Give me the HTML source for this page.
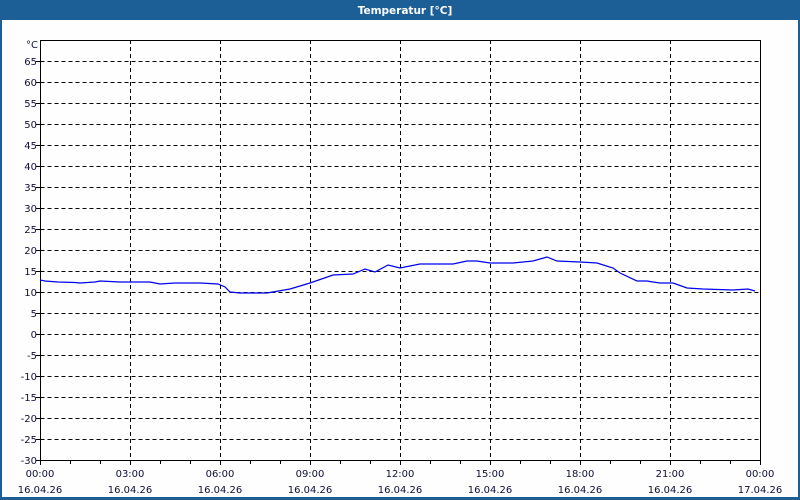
<!DOCTYPE html>
<html><head><meta charset="utf-8"><style>
html,body{margin:0;padding:0;background:#fff}
svg{display:block}
text{font-family:"DejaVu Sans","Liberation Sans",sans-serif;font-size:10px;fill:#10103a}
</style></head><body>
<svg width="800" height="500" viewBox="0 0 800 500" xmlns="http://www.w3.org/2000/svg">
<rect x="0" y="0" width="800" height="500" fill="#1c5e96"/>
<rect x="2" y="20" width="796" height="477" fill="#fdfefd"/>
<text x="405" y="14" text-anchor="middle" style="fill:#fff;font-weight:bold;font-size:10.5px">Temperatur [°C]</text>
<g stroke="#000" stroke-width="1" stroke-dasharray="4,3" fill="none">
<path d="M40.5 61.5H760M40.5 82.5H760M40.5 103.5H760M40.5 124.5H760M40.5 145.5H760M40.5 166.5H760M40.5 187.5H760M40.5 208.5H760M40.5 229.5H760M40.5 250.5H760M40.5 271.5H760M40.5 292.5H760M40.5 313.5H760M40.5 334.5H760M40.5 355.5H760M40.5 376.5H760M40.5 397.5H760M40.5 418.5H760M40.5 439.5H760"/>
<path d="M130.5 40V460M220.5 40V460M310.5 40V460M400.5 40V460M490.5 40V460M580.5 40V460M670.5 40V460"/>
</g>
<g stroke="#000" stroke-width="1" fill="none">
<rect x="40.5" y="40.5" width="720" height="420"/>
<path d="M40.5 460V465M70.5 460V464M100.5 460V464M130.5 460V465M160.5 460V464M190.5 460V464M220.5 460V465M250.5 460V464M280.5 460V464M310.5 460V465M340.5 460V464M370.5 460V464M400.5 460V465M430.5 460V464M460.5 460V464M490.5 460V465M520.5 460V464M550.5 460V464M580.5 460V465M610.5 460V464M640.5 460V464M670.5 460V465M700.5 460V464M730.5 460V464M760.5 460V465"/>
<path d="M36 61.5H40M36 82.5H40M36 103.5H40M36 124.5H40M36 145.5H40M36 166.5H40M36 187.5H40M36 208.5H40M36 229.5H40M36 250.5H40M36 271.5H40M36 292.5H40M36 313.5H40M36 334.5H40M36 355.5H40M36 376.5H40M36 397.5H40M36 418.5H40M36 439.5H40M36 460.5H40"/>
</g>
<g text-anchor="end">
<text x="38" y="48">°C</text>
<text x="37" y="65">65</text><text x="37" y="86">60</text><text x="37" y="107">55</text><text x="37" y="128">50</text><text x="37" y="149">45</text><text x="37" y="170">40</text><text x="37" y="191">35</text><text x="37" y="212">30</text><text x="37" y="233">25</text><text x="37" y="254">20</text><text x="37" y="275">15</text><text x="37" y="296">10</text><text x="37" y="317">5</text><text x="37" y="338">0</text><text x="37" y="359">-5</text><text x="37" y="380">-10</text><text x="37" y="401">-15</text><text x="37" y="422">-20</text><text x="37" y="443">-25</text><text x="37" y="464">-30</text>
</g>
<g text-anchor="middle">
<text x="40" y="477">00:00</text><text x="40" y="493">16.04.26</text>
<text x="130" y="477">03:00</text><text x="130" y="493">16.04.26</text>
<text x="220" y="477">06:00</text><text x="220" y="493">16.04.26</text>
<text x="310" y="477">09:00</text><text x="310" y="493">16.04.26</text>
<text x="400" y="477">12:00</text><text x="400" y="493">16.04.26</text>
<text x="490" y="477">15:00</text><text x="490" y="493">16.04.26</text>
<text x="580" y="477">18:00</text><text x="580" y="493">16.04.26</text>
<text x="670" y="477">21:00</text><text x="670" y="493">16.04.26</text>
<text x="760" y="477">00:00</text><text x="760" y="493">17.04.26</text>
</g>
<polyline fill="none" stroke="#0000ee" stroke-width="1.2" points="40,280 45,281 58,282 75,282.5 80,283 95,282 100,281 120,282 150,282 160,284 175,283 200,283 218,284 225,287 230,292 240,293 267,293 290,289 310,283 333,275 353,274 365,269 375,272 388,265 400,268 420,264 440,264 453,264 467,261 477,261 490,263 513,263 533,261 547,257 557,261 580,262 597,263 613,268 620,273 637,281 647,281 653,282 660,283 673,283 687,288 703,289 733,290 748,289 755,291"/>
</svg>
</body></html>
